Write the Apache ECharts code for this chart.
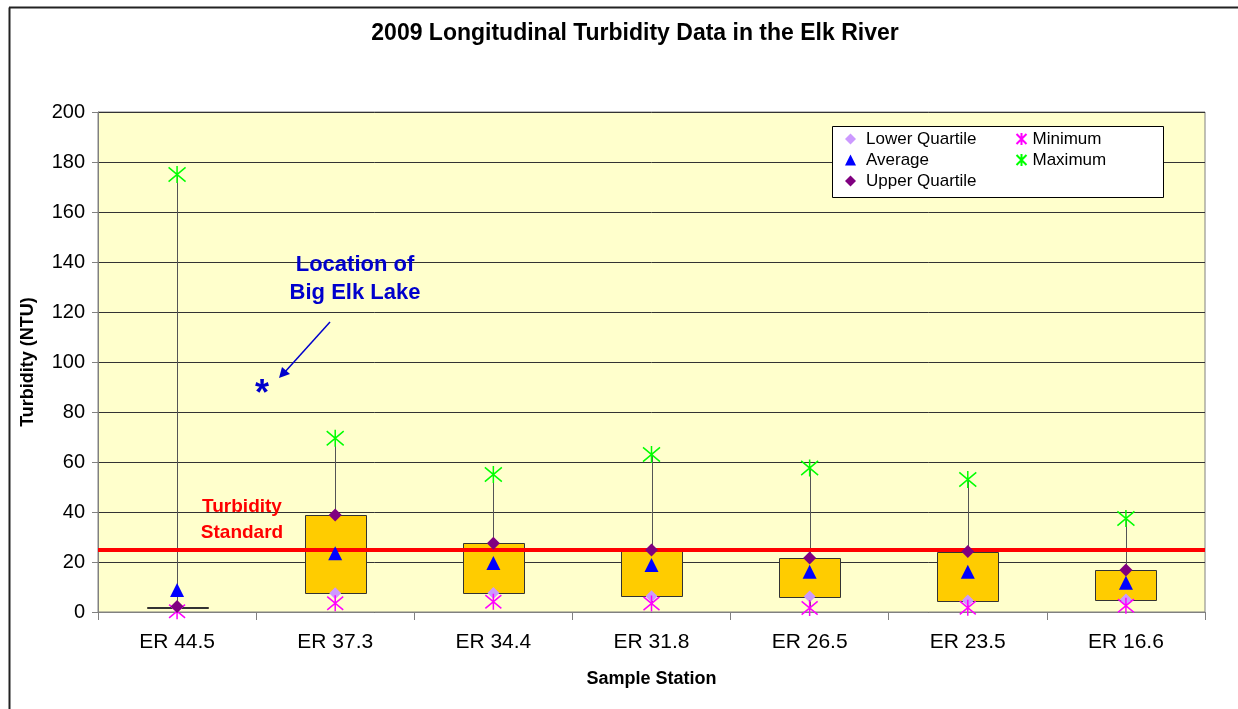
<!DOCTYPE html>
<html>
<head>
<meta charset="utf-8">
<script src="https://cdn.jsdelivr.net/npm/echarts@6/dist/echarts.min.js"></script>
<style>
html, body { margin: 0; padding: 0; background: #fff; }
#main { width: 1238px; height: 709px; }
</style>
</head>
<body>
<div id="main"></div>
<script>
var stations = ['ER 44.5', 'ER 37.3', 'ER 34.4', 'ER 31.8', 'ER 26.5', 'ER 23.5', 'ER 16.6'];
var lowerQuartile = [2.0, 7.5, 7.6, 6.3, 6.2, 4.6, 5.0];
var average = [8.8, 23.5, 19.6, 18.8, 16.1, 16.1, 11.7];
var upperQuartile = [2.2, 38.8, 27.5, 24.8, 21.6, 24.2, 16.8];
var minimum = [0.3, 3.5, 4.1, 3.4, 1.6, 1.7, 2.5];
var maximum = [175, 69.5, 55, 63, 57.6, 53, 37.4];
var turbidityStandard = 25;
var yTicks = [0, 20, 40, 60, 80, 100, 120, 140, 160, 180, 200];

var FONT = '"Liberation Sans", Arial, sans-serif';
var myChart = echarts.init(document.getElementById('main'));

var boxData = [];
var whiskerData = [];
for (let i = 0; i < stations.length; i++) {
	boxData.push([i, lowerQuartile[i], upperQuartile[i]]);
	whiskerData.push([i, minimum[i], maximum[i]]);
}

// asterisk used by Excel for min / max
var star = 'path://M0,0L10,10M10,0L0,10M5,-1L5,11';

option = {
	animation: false,
	backgroundColor: '#fff',
	title: {
		text: '2009 Longitudinal Turbidity Data in the Elk River',
		left: 630,
		textAlign: 'center',
		top: 17,
		textStyle: { fontFamily: FONT, fontSize: 23, fontWeight: 'bold', color: '#000' }
	},
	legend: [{
		left: 845,
		top: 128.5,
		padding: 0,
		orient: 'vertical',
		itemGap: 0,
		itemWidth: 11,
		itemHeight: 11,
		z: 10,
		textStyle: { fontFamily: FONT, fontSize: 17, lineHeight: 21, color: '#000', padding: [0, 0, 0, 5] },
		data: [
			{ name: 'Lower Quartile', icon: 'diamond' },
			{ name: 'Average', icon: 'triangle' },
			{ name: 'Upper Quartile', icon: 'diamond' }
		]
	}, {
		left: 1014,
		top: 128.5,
		padding: 0,
		orient: 'vertical',
		itemGap: 0,
		itemWidth: 12,
		itemHeight: 12,
		z: 10,
		textStyle: { fontFamily: FONT, fontSize: 17, lineHeight: 21, color: '#000', padding: [0, 0, 0, 0] },
		data: [
			{ name: 'Minimum', icon: star },
			{ name: 'Maximum', icon: star }
		]
	}],
	grid: {
		left: 98,
		right: 33,
		top: 112,
		bottom: 97,
		show: true,
		backgroundColor: '#FFFFCC',
		borderColor: '#808080',
		borderWidth: 1
	},
	xAxis: {
		type: 'category',
		data: stations,
		boundaryGap: true,
		name: 'Sample Station',
		nameLocation: 'middle',
		nameGap: 58,
		nameTextStyle: { fontFamily: FONT, fontSize: 18, fontWeight: 'bold', color: '#000' },
		axisLine: { lineStyle: { color: '#808080' } },
		axisTick: { show: true, alignWithLabel: false, length: 8, lineStyle: { color: '#808080' } },
		axisLabel: { margin: 20, fontFamily: FONT, fontSize: 21, color: '#000' }
	},
	yAxis: {
		type: 'value',
		min: yTicks[0],
		max: yTicks[yTicks.length - 1],
		interval: 20,
		name: 'Turbidity (NTU)',
		nameLocation: 'middle',
		nameGap: 61,
		nameTextStyle: { fontFamily: FONT, fontSize: 18, fontWeight: 'bold', color: '#000' },
		axisLine: { show: true, lineStyle: { color: '#808080' } },
		axisTick: { show: true, length: 6, lineStyle: { color: '#808080' } },
		axisLabel: { margin: 13, fontFamily: FONT, fontSize: 20, color: '#000' },
		splitLine: { show: true, lineStyle: { color: '#333', width: 1 } }
	},
	graphic: [
		{ type: 'line', shape: { x1: 9.5, y1: 709, x2: 9.5, y2: 7.5 }, style: { stroke: '#222', lineWidth: 2 } },
		{ type: 'line', shape: { x1: 9, y1: 7.5, x2: 1238, y2: 7.5 }, style: { stroke: '#222', lineWidth: 2 } },
		{ type: 'rect', z: 5, shape: { x: 832.5, y: 126.5, width: 331, height: 71 }, style: { fill: '#fff', stroke: '#000', lineWidth: 1 } },
		{ type: 'text', z: 20, style: { x: 242, y: 520, text: 'Turbidity\nStandard', fill: '#FF0000', font: 'bold 19px ' + FONT, lineHeight: 26, textAlign: 'center', textVerticalAlign: 'middle' } },
		{ type: 'text', z: 20, style: { x: 355, y: 279, text: 'Location of\nBig Elk Lake', fill: '#0000CC', font: 'bold 22px ' + FONT, lineHeight: 28, textAlign: 'center', textVerticalAlign: 'middle', textShadowColor: 'rgba(0,0,80,0.35)', textShadowOffsetX: 1, textShadowOffsetY: 1 } },
		{ type: 'line', z: 20, shape: { x1: 330, y1: 322, x2: 284, y2: 373 }, style: { stroke: '#0000CC', lineWidth: 1.5 } },
		{ type: 'polygon', z: 20, shape: { points: [[279, 378], [282, 367], [290, 374]] }, style: { fill: '#0000CC' } },
		{ type: 'text', z: 20, style: { x: 262, y: 395, text: '*', fill: '#0000CC', font: 'bold 36px ' + FONT, textAlign: 'center', textVerticalAlign: 'middle' } }
	],
	series: [{
		name: 'whisker',
		type: 'custom',
		z: 2,
		renderItem: function (params, api) {
			var lo = api.coord([api.value(0), api.value(1)]);
			var hi = api.coord([api.value(0), api.value(2)]);
			return {
				type: 'line',
				shape: { x1: Math.round(lo[0]) + 0.5, y1: lo[1], x2: Math.round(hi[0]) + 0.5, y2: hi[1] },
				style: { stroke: '#555', lineWidth: 1 }
			};
		},
		encode: { x: 0, y: [1, 2] },
		data: whiskerData,
		markLine: {
			silent: true,
			symbol: 'none',
			label: { show: false },
			lineStyle: { color: '#FF0000', width: 4, type: 'solid' },
			data: [{ yAxis: turbidityStandard }]
		}
	}, {
		name: 'box',
		type: 'custom',
		z: 3,
		renderItem: function (params, api) {
			var lo = api.coord([api.value(0), api.value(1)]);
			var hi = api.coord([api.value(0), api.value(2)]);
			var w = api.size([1, 0])[0] * 0.385;
			return {
				type: 'rect',
				shape: { x: Math.round(lo[0] - w / 2) + 0.5, y: Math.round(hi[1]) + 0.5, width: Math.round(w), height: Math.max(0, Math.round(lo[1] - hi[1])) },
				style: { fill: '#FFCC00', stroke: '#333', lineWidth: 1 }
			};
		},
		encode: { x: 0, y: [1, 2] },
		data: boxData
	}, {
		name: 'Lower Quartile',
		type: 'scatter',
		z: 4,
		symbol: 'diamond',
		symbolSize: 12,
		itemStyle: { color: '#CC99FF', opacity: 1 },
		data: lowerQuartile
	}, {
		name: 'Minimum',
		type: 'scatter',
		z: 5,
		symbol: star,
		symbolSize: 16,
		itemStyle: { color: 'none', borderColor: '#FF00FF', borderWidth: 1.5, opacity: 1 },
		data: minimum
	}, {
		name: 'Average',
		type: 'scatter',
		z: 6,
		symbol: 'triangle',
		symbolSize: 14,
		itemStyle: { color: '#0000FF', opacity: 1 },
		data: average
	}, {
		name: 'Upper Quartile',
		type: 'scatter',
		z: 6,
		symbol: 'diamond',
		symbolSize: 13,
		itemStyle: { color: '#800080', opacity: 1 },
		data: upperQuartile
	}, {
		name: 'Maximum',
		type: 'scatter',
		z: 6,
		symbol: star,
		symbolSize: 17,
		itemStyle: { color: 'none', borderColor: '#00FF00', borderWidth: 1.5, opacity: 1 },
		data: maximum
	}]
};
myChart.setOption(option);
</script>
</body>
</html>
